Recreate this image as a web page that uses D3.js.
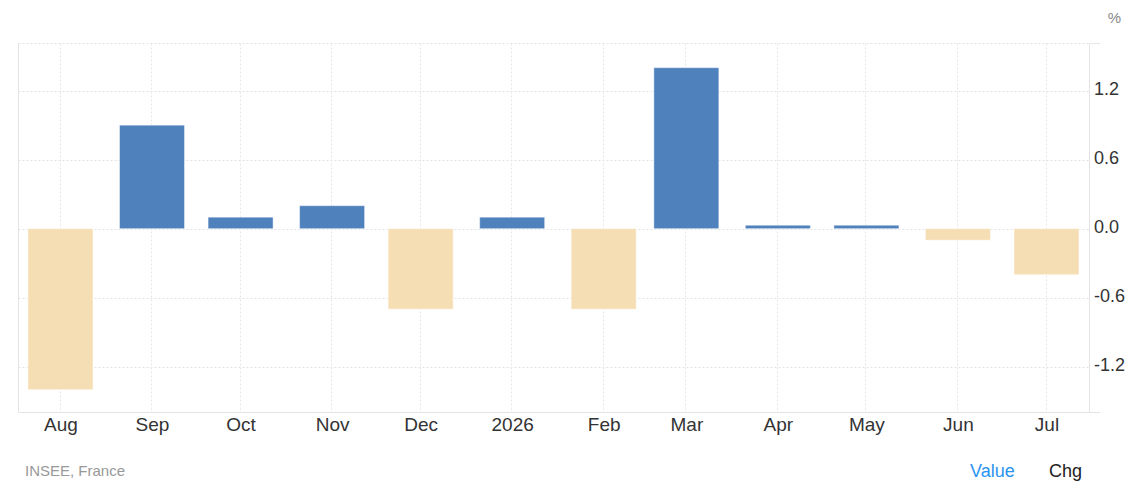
<!DOCTYPE html>
<html>
<head>
<meta charset="utf-8">
<script src="https://cdn.jsdelivr.net/npm/d3@7"></script>
<style>
  html, body { margin: 0; padding: 0; background: #fff; }
  svg { display: block; font-family: "Liberation Sans", Arial, sans-serif; }
</style>
</head>
<body>
<svg id="chart" width="1137" height="487"></svg>
<script>
const months = ["2025-08-01", "2025-09-01", "2025-10-01", "2025-11-01", "2025-12-01", "2026-01-01",
                "2026-02-01", "2026-03-01", "2026-04-01", "2026-05-01", "2026-06-01", "2026-07-01"];
const categories = ["Aug", "Sep", "Oct", "Nov", "Dec", "2026", "Feb", "Mar", "Apr", "May", "Jun", "Jul"];
const values = [-1.4, 0.9, 0.1, 0.2, -0.7, 0.1, -0.7, 1.4, 0.03, 0.03, -0.1, -0.4];
const yTicks = [-1.2, -0.6, 0.0, 0.6, 1.2];
const unitLabel = "%";
const sourceLabel = "INSEE, France";
const toggleLabels = ["Value", "Chg"];

(function () {
const svg = d3.select("#chart");
const pLeft = 18.5, pRight = 1089.5, pTop = 43.5, pBottom = 412.5;
const dates = months.map(s => new Date(s + "T00:00:00Z"));
const barW = 65;

const x = d3.scaleUtc().domain([dates[0], dates[11]]).range([60.5, 1046.5]);
const y = d3.scaleLinear().domain([-1.594, 1.612]).range([412, 43.3]);

const grid = svg.append("g");
grid.selectAll("line.h").data(yTicks).join("line")
  .attr("x1", pLeft).attr("x2", pRight)
  .attr("y1", d => Math.round(y(d)) + 0.5).attr("y2", d => Math.round(y(d)) + 0.5)
  .attr("stroke", "#e3e3e3").attr("stroke-dasharray", "2,2");
grid.append("line").attr("x1", pLeft).attr("x2", pRight).attr("y1", pTop).attr("y2", pTop)
  .attr("stroke", "#e3e3e3").attr("stroke-dasharray", "2,2");
grid.append("line").attr("x1", pRight).attr("x2", 1100).attr("y1", pTop).attr("y2", pTop)
  .attr("stroke", "#e6e6e6");
grid.selectAll("line.v").data(dates).join("line")
  .attr("x1", d => Math.round(x(d)) - 0.5)
  .attr("x2", d => Math.round(x(d)) - 0.5)
  .attr("y1", pTop).attr("y2", pBottom)
  .attr("stroke", "#e6e6e6").attr("stroke-dasharray", "2,2");

svg.append("line").attr("x1", pLeft).attr("x2", pLeft).attr("y1", pTop).attr("y2", pBottom).attr("stroke", "#e3e3e3");
svg.append("line").attr("x1", pRight).attr("x2", pRight).attr("y1", pTop).attr("y2", pBottom).attr("stroke", "#e3e3e3");
svg.append("line").attr("x1", pLeft).attr("x2", 1100).attr("y1", pBottom).attr("y2", pBottom).attr("stroke", "#e3e3e3");

svg.append("g").selectAll("rect").data(values).join("rect")
  .attr("x", (d, i) => x(dates[i]) - barW / 2)
  .attr("width", barW)
  .attr("y", d => Math.min(y(d), y(0)))
  .attr("height", d => Math.abs(y(d) - y(0)))
  .attr("fill", d => d >= 0 ? "#4f81bd" : "#f5deb3")
  .attr("stroke", "rgba(255,255,255,0.45)")
  .attr("stroke-width", 1);

const yAxis = d3.axisRight(y).tickValues(yTicks).tickSize(0).tickPadding(0)
  .tickFormat(d => d3.format(".1f")(d).replace("−", "-"));
const ya = svg.append("g").attr("transform", "translate(1094,-1.5)").call(yAxis);
ya.select(".domain").remove();
ya.selectAll("text").attr("font-size", 18).attr("fill", "#333").attr("font-family", "Liberation Sans, Arial, sans-serif");

const xAxis = d3.axisBottom(x).tickValues(dates).tickSize(0).tickPadding(0)
  .tickFormat((d, i) => categories[i]);
const xa = svg.append("g").attr("transform", `translate(0,${pBottom})`).call(xAxis);
xa.select(".domain").remove();
xa.selectAll("text").attr("font-size", 19).attr("fill", "#333").attr("dy", "0").attr("y", 18)
  .attr("font-family", "Liberation Sans, Arial, sans-serif");

svg.append("text").attr("x", 1121).attr("y", 23).attr("text-anchor", "end")
  .attr("font-size", 15).attr("fill", "#888").text(unitLabel);

svg.append("text").attr("x", 25).attr("y", 476).attr("font-size", 15).attr("fill", "#999").text(sourceLabel);

svg.append("text").attr("x", 970).attr("y", 477).attr("font-size", 18).attr("fill", "#2b94f0").text(toggleLabels[0]);
svg.append("text").attr("x", 1049).attr("y", 477).attr("font-size", 18).attr("fill", "#222").text(toggleLabels[1]);
})();
</script>
</body>
</html>
